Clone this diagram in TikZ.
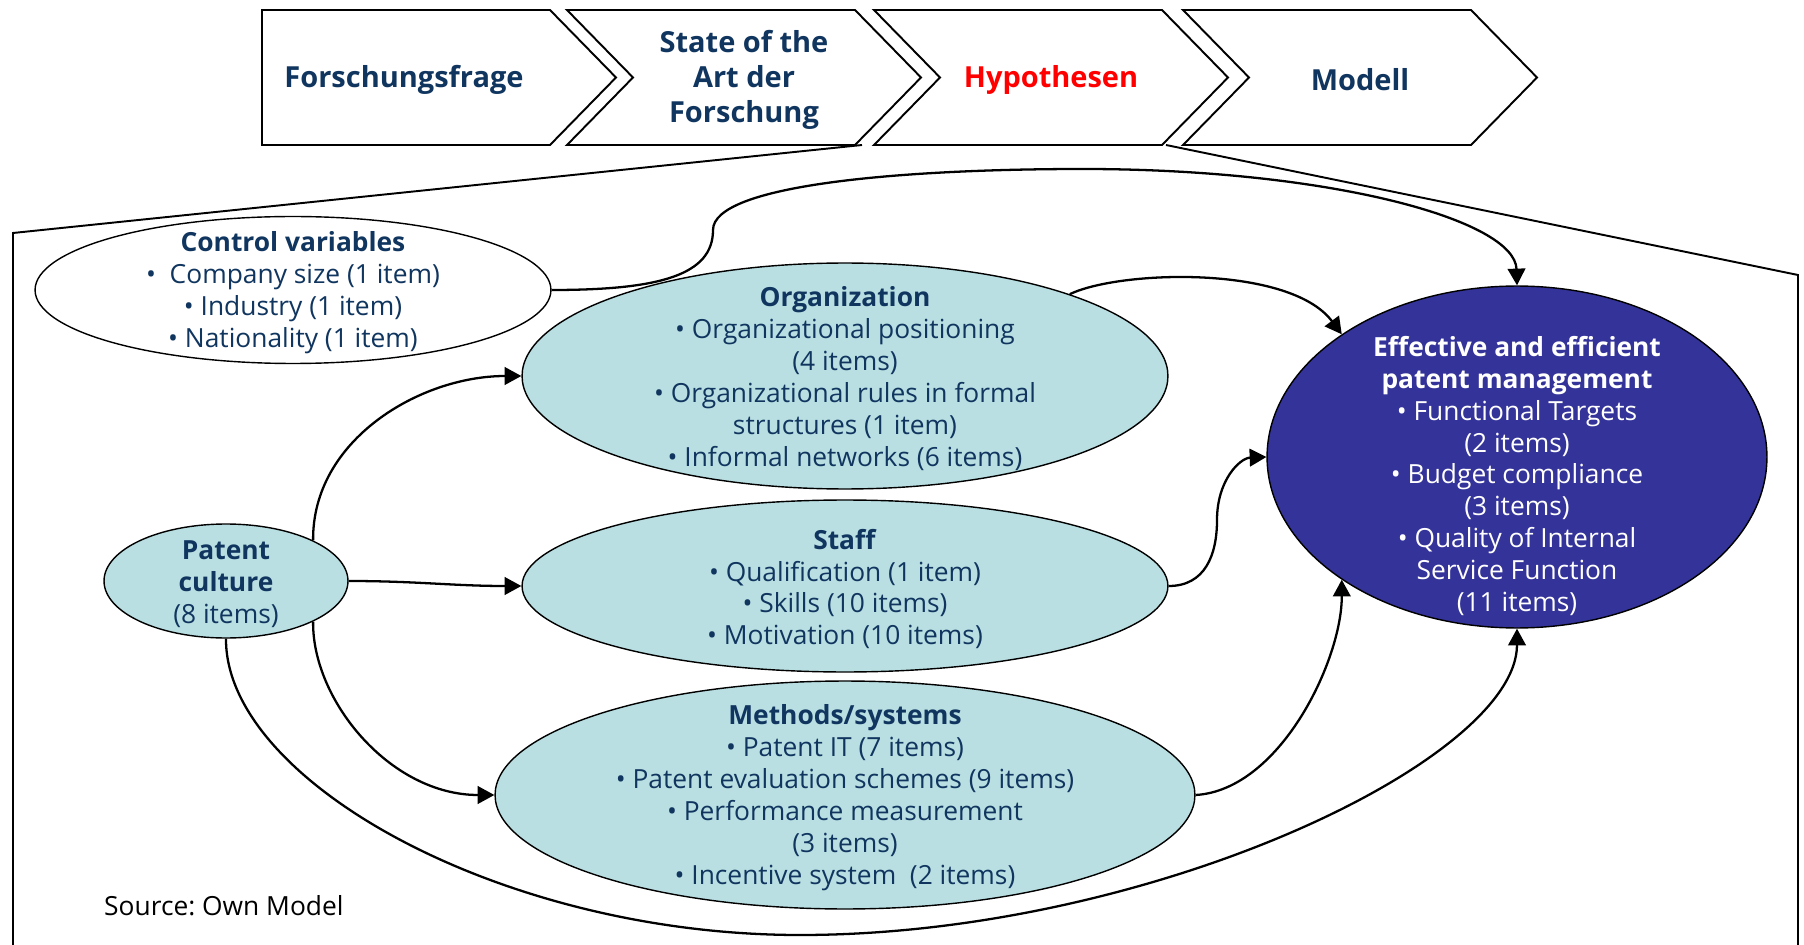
\documentclass[tikz,border=0pt]{standalone}
\usepackage{fontspec}
\setmainfont{Open Sans}
\frenchspacing
\usetikzlibrary{arrows.meta,shapes.geometric,positioning}
\definecolor{navy}{HTML}{10355F}
\definecolor{tealfill}{HTML}{B9DFE3}
\definecolor{goalblue}{HTML}{343399}
\tikzset{>={Triangle[width=10pt,length=9.5pt]}}
\tikzset{link/.style={->, draw=black, line width=1.3pt}}
\tikzset{blob/.style={shape=ellipse, draw, line width=0.8pt, inner sep=0pt}}
\tikzset{factor/.style={blob, fill=tealfill}}
\tikzset{items/.style={align=center, text=navy, yshift=-0.06cm, font=\fontsize{15}{18.2}\selectfont}}
\tikzset{headtext/.style={align=center, text=navy, yshift=-0.06cm, font=\fontsize{16.5}{19.9}\selectfont\bfseries}}
\tikzset{chevron/.style={draw=black, line width=1.1pt, fill=white}}

\begin{document}
\begin{tikzpicture}[x=0.02cm, y=-0.02cm]
    \useasboundingbox (0,0) rectangle (1804,945);

    % process steps
    \draw[chevron] (262,10) -- (550,10) -- (616,77.5) -- (550,145) -- (262,145) -- cycle;
    \draw[chevron] (567,10) -- (855,10) -- (921,77.5) -- (855,145) -- (567,145) -- (633,77.5) -- cycle;
    \draw[chevron] (874,10) -- (1162,10) -- (1228,77.5) -- (1162,145) -- (874,145) -- (940,77.5) -- cycle;
    \draw[chevron] (1183,10) -- (1471,10) -- (1537,77.5) -- (1471,145) -- (1183,145) -- (1249,77.5) -- cycle;

    \node(frage)[headtext] at (404,77) {Forschungsfrage};
    \node(sota)[headtext] at (744,77) {State of the\\Art der\\Forschung};
    \node(hypo)[headtext, text=red] at (1051,77) {Hypothesen};
    \node(modell)[headtext] at (1360,77) {Modell};

    % zoom frame of Hypothesen
    \coordinate(frameL) at (862,145);
    \coordinate(frameR) at (1166,145);
    \draw[line width=1.1pt] (frameL) -- (13,233) -- (13,945);
    \draw[line width=1.1pt] (frameR) -- (1798,275) -- (1798,945);

    \node(ctrl)[blob, fill=white, minimum width=10.32cm, minimum height=2.94cm] at (293,290) {};
    \node(org)[factor, minimum width=12.92cm, minimum height=4.52cm] at (845,376) {};
    \node(staff)[factor, minimum width=12.92cm, minimum height=3.44cm] at (845,586) {};
    \node(meth)[factor, minimum width=14cm, minimum height=4.56cm] at (845,795) {};
    \node(pc)[factor, minimum width=4.88cm, minimum height=2.28cm] at (226,581) {};
    \node(eff)[blob, fill=goalblue, minimum width=10cm, minimum height=6.84cm] at (1517,457) {};

    \node(ctrltxt)[items] at (ctrl) {\textbf{Control variables}\\•\ \ Company size (1 item)\\• Industry (1 item)\\• Nationality (1 item)};
    \node(orgtxt)[items] at (org) {\textbf{Organization}\\• Organizational positioning\\(4 items)\\• Organizational rules in formal\\structures (1 item)\\• Informal networks (6 items)};
    \node(stafftxt)[items] at (staff) {\textbf{Staff}\\• Qualification (1 item)\\• Skills (10 items)\\• Motivation (10 items)};
    \node(methtxt)[items] at (meth) {\textbf{Methods/systems}\\• Patent IT (7 items)\\• Patent evaluation schemes (9 items)\\• Performance measurement\\(3 items)\\• Incentive system\ \ (2 items)};
    \node(pctxt)[items] at (pc) {\textbf{Patent}\\\textbf{culture}\\(8 items)};
    \node(efftxt)[items, text=white] at ([yshift=-0.32cm]eff.center) {\textbf{Effective and efficient}\\\textbf{patent management}\\• Functional Targets\\(2 items)\\• Budget compliance\\(3 items)\\• Quality of Internal\\Service Function\\(11 items)};

    \node(src)[anchor=west, yshift=-0.06cm, font=\fontsize{15}{18}\selectfont] at (98,903) {Source: Own Model};

    \draw [link] (ctrl.east) .. controls (660,290) and (713,275) .. (713,230) .. controls (713,185) and (900,169) .. (1083,169) .. controls (1330,169) and (1515,220) .. (eff.north);
    \draw [link] (org.20) .. controls (1120,270) and (1290,265) .. (eff.145);
    \draw [link] (staff.east) .. controls (1205,586) and (1217,555) .. (1217,520) .. controls (1217,480) and (1240,458) .. (eff.west);
    \draw [link] (meth.east) .. controls (1280,790) and (1342,660) .. (eff.215);
    %\draw [link] (pc.south) to [bend right=45] (eff.south);
    \draw [link] (pc.south) .. controls (225,780) and (500,935) .. (800,935) .. controls (1150,935) and (1517,760) .. (eff.south);
    \draw [link] (pc.25) .. controls (312,440) and (420,376) .. (org.west);
    \draw [link] (pc.east) to [out=0,in=180] (staff.west);
    \draw [link] (pc.-25) .. controls (312,700) and (390,795) .. (meth.west);
\end{tikzpicture}
\end{document}
